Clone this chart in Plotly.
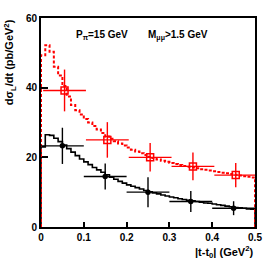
import numpy as np
import plotly.graph_objects as go

# histogram bin edges (|t - t0|, GeV^2)
t_edges = np.round(np.arange(0, 0.51, 0.01), 2)

# red dotted curve: P_pi = 15 GeV model (pb/GeV^2)
red_curve = [49.3, 52.2, 50.3, 46.0, 43.5, 40.5, 37.5, 35.0, 33.5, 32.3,
             31.0, 30.0, 29.0, 28.0, 27.0, 26.0, 25.3, 24.6, 24.0, 23.4,
             22.8, 22.2, 21.7, 21.2, 20.7, 20.2, 19.8, 19.4, 19.0, 18.7,
             18.4, 18.1, 17.8, 17.5, 17.3, 17.1, 16.9, 16.6, 16.4, 16.2,
             16.0, 15.8, 15.6, 15.4, 15.2, 15.0, 14.8, 14.6, 14.4, 14.2]

# black solid curve
black_curve = [23.0, 26.5, 26.3, 25.5, 24.5, 23.5, 22.5, 21.5, 20.5, 19.5,
               18.7, 17.9, 17.1, 16.4, 15.7, 15.0, 14.3, 13.7, 13.1, 12.6,
               12.1, 11.7, 11.3, 10.9, 10.5, 10.1, 9.8, 9.5, 9.2, 8.9,
               8.6, 8.4, 8.1, 7.9, 7.7, 7.5, 7.3, 7.1, 6.9, 6.8,
               6.6, 6.4, 6.2, 6.0, 5.8, 5.6, 5.5, 5.4, 5.2, 5.1]

# red open squares (pseudo-data)
red_t = [0.055, 0.155, 0.255, 0.355, 0.455]
red_y = [39.2, 25.0, 20.0, 17.4, 14.9]
red_ey = [6.0, 5.1, 4.1, 4.0, 3.5]
red_ex = [0.05, 0.05, 0.05, 0.05, 0.05]

# black filled circles
blk_t = [0.05, 0.15, 0.25, 0.35, 0.45]
blk_y = [23.3, 14.5, 10.0, 7.3, 5.4]
blk_ey = [5.2, 3.7, 4.3, 3.0, 2.0]
blk_ex = [0.05, 0.05, 0.05, 0.05, 0.05]

x_ticks = [0, 0.1, 0.2, 0.3, 0.4, 0.5]
x_labels = ["0", "0.1", "0.2", "0.3", "0.4", "0.5"]
y_ticks = [0, 20, 40, 60]
y_labels = ["0", "20", "40", "60"]


def hist_xy(edges, vals):
    xs = [edges[0]] + list(edges) + [edges[-1]]
    ys = [0] + list(vals) + [vals[-1], 0]
    return xs, ys


FONT = "Liberation Sans, Arial, sans-serif"
fig = go.Figure()

hx, hy = hist_xy(t_edges, black_curve)
fig.add_trace(go.Scatter(x=hx, y=hy, mode="lines", line_shape="hv",
                         line=dict(color="black", width=1.6), hoverinfo="skip"))
hx, hy = hist_xy(t_edges, red_curve)
fig.add_trace(go.Scatter(x=hx, y=hy, mode="lines", line_shape="hv",
                         line=dict(color="#ff0000", width=2, dash="3px,2px"), hoverinfo="skip"))

fig.add_trace(go.Scatter(
    x=blk_t, y=blk_y, mode="markers",
    marker=dict(symbol="circle", size=5.5, color="black"),
    error_x=dict(type="data", array=blk_ex, color="black", thickness=1.4, width=0),
    error_y=dict(type="data", array=blk_ey, color="black", thickness=1.4, width=0)))
fig.add_trace(go.Scatter(
    x=red_t, y=red_y, mode="markers",
    marker=dict(symbol="square-open", size=7, color="#ff0000", line=dict(width=1.5)),
    error_x=dict(type="data", array=red_ex, color="#ff0000", thickness=1.4, width=0),
    error_y=dict(type="data", array=red_ey, color="#ff0000", thickness=1.4, width=0)))

fig.add_annotation(x=0.0764, y=55.1, xref="x", yref="y", xanchor="left", yanchor="middle",
                   text="<b>P<sub>π</sub>=15 GeV</b>", showarrow=False,
                   font=dict(family=FONT, size=10, color="black"))
fig.add_annotation(x=0.245, y=55.1, xref="x", yref="y", xanchor="left", yanchor="middle",
                   text="<b>M<sub>μμ</sub>>1.5 GeV</b>", showarrow=False,
                   font=dict(family=FONT, size=10, color="black"))
fig.add_annotation(x=-0.145, y=0.788, xref="paper", yref="paper", xanchor="center", yanchor="middle",
                   text="<b>dσ<sub>L</sub>/dt (pb/GeV<sup>2</sup>)</b>", showarrow=False, textangle=-90,
                   font=dict(family=FONT, size=11, color="black"))
fig.add_annotation(x=1.0, y=-0.12, xref="paper", yref="paper", xanchor="right", yanchor="middle",
                   text="<b>|t-t<sub>0</sub>| (GeV<sup>2</sup>)</b>", showarrow=False,
                   font=dict(family=FONT, size=11, color="black"))

fig.update_layout(
    width=274, height=274,
    margin=dict(l=41, r=12, t=12, b=47),
    paper_bgcolor="white", plot_bgcolor="white",
    showlegend=False,
    font=dict(family=FONT, size=10, color="black"),
)
fig.update_xaxes(range=[0, 0.5], tickvals=x_ticks, ticktext=x_labels,
                 ticks="inside", ticklen=5, tickwidth=1.5, tickcolor="black",
                 showline=True, linecolor="black", linewidth=2, mirror=True,
                 showgrid=False, zeroline=False, layer="below traces",
                 tickfont=dict(family=FONT, size=10, color="black", weight="bold"))
fig.update_yaxes(range=[0, 60], tickvals=y_ticks, ticktext=y_labels,
                 ticks="inside", ticklen=7, tickwidth=1.5, tickcolor="black",
                 showline=True, linecolor="black", linewidth=2, mirror=True,
                 showgrid=False, zeroline=False, layer="below traces",
                 tickfont=dict(family=FONT, size=10, color="black", weight="bold"))

fig.write_html("out.html", config={"displayModeBar": False},
               post_script="document.body.style.margin='0px';document.body.style.overflow='hidden';")
